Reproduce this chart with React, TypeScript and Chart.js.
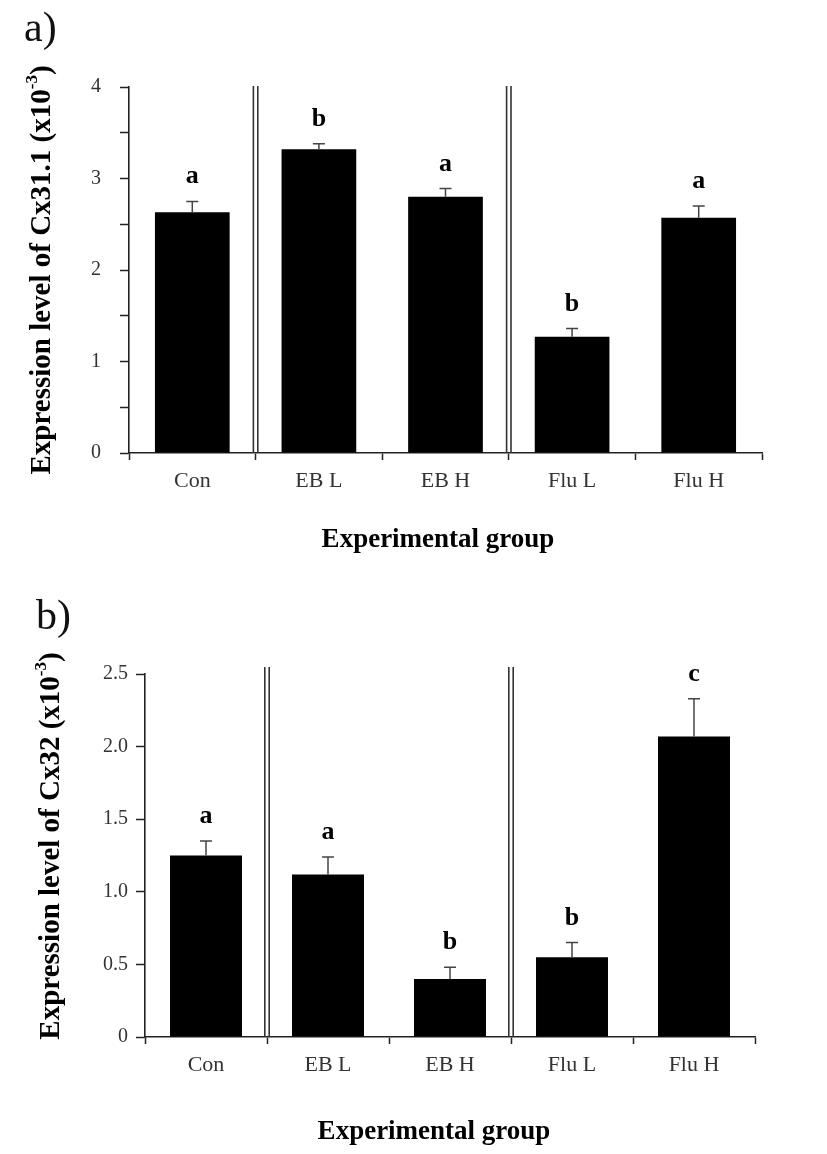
import React, { useEffect, useRef } from 'react';
import { Chart, registerables } from 'chart.js';

Chart.register(...registerables);

const categories = ['Con', 'EB L', 'EB H', 'Flu L', 'Flu H'];

const cx311Means = [2.63, 3.32, 2.8, 1.27, 2.57];
const cx311Errors = [0.12, 0.06, 0.09, 0.09, 0.13];
const cx311Letters = ['a', 'b', 'a', 'b', 'a'];
const cx311TickLabels = ['0', '1', '2', '3', '4'];

const cx32Means = [1.25, 1.12, 0.4, 0.55, 2.07];
const cx32Errors = [0.1, 0.12, 0.08, 0.1, 0.26];
const cx32Letters = ['a', 'a', 'b', 'b', 'c'];
const cx32TickLabels = ['0', '0.5', '1.0', '1.5', '2.0', '2.5'];

const separatorsAfter = [0, 2];

const SERIF = "'Liberation Serif', 'Times New Roman', serif";
const W = 827;

type PanelCfg = {
  top: number;
  height: number;
  means: number[];
  errors: number[];
  letters: string[];
  tickLabels: string[];
  yMax: number;
  yStep: number;
  labelStep: number;
  area: { left: number; top: number; right: number; bottom: number };
  yTickPad: number;
  yTitleMain: string;
  yTitleSup: string;
  yTitleX: number;
  yTitleY: number;
  xTitleX: number;
  xTitleY: number;
  panelLabel: string;
  panelX: number;
  panelY: number;
  sepTop: number;
  letterFont: number;
  yTitleFont: number;
  xTitleFont: number;
};

function Panel({ cfg }: { cfg: PanelCfg }) {
  const ref = useRef<HTMLCanvasElement>(null);
  useEffect(() => {
    const YW = 45;
    const XH = 50;
    const overlay = {
      id: 'overlay',
      afterDatasetsDraw(chart: any) {
        const ctx = chart.ctx as CanvasRenderingContext2D;
        const xs = chart.scales.x;
        const ys = chart.scales.y;
        ctx.save();
        // error bars + significance letters
        cfg.means.forEach((m, i) => {
          const cx = xs.getPixelForValue(i);
          const y0 = ys.getPixelForValue(m);
          const y1 = ys.getPixelForValue(m + cfg.errors[i]);
          ctx.strokeStyle = '#444';
          ctx.lineWidth = 1.5;
          ctx.beginPath();
          ctx.moveTo(cx, y0);
          ctx.lineTo(cx, y1);
          ctx.moveTo(cx - 6, y1);
          ctx.lineTo(cx + 6, y1);
          ctx.stroke();
          ctx.fillStyle = '#000';
          ctx.font = `bold ${cfg.letterFont}px ${SERIF}`;
          ctx.textAlign = 'center';
          ctx.textBaseline = 'alphabetic';
          ctx.fillText(cfg.letters[i], cx, y1 - 18);
        });
        // double separators
        ctx.strokeStyle = '#333';
        ctx.lineWidth = 1.6;
        separatorsAfter.forEach((i) => {
          const sx = (xs.getPixelForValue(i) + xs.getPixelForValue(i + 1)) / 2;
          const yb = ys.getPixelForValue(0);
          [-2.2, 2.2].forEach((d) => {
            ctx.beginPath();
            ctx.moveTo(sx + d, cfg.sepTop);
            ctx.lineTo(sx + d, yb);
            ctx.stroke();
          });
        });
        // y title with superscript
        ctx.fillStyle = '#000';
        ctx.translate(cfg.yTitleX, cfg.yTitleY);
        ctx.rotate(-Math.PI / 2);
        const mainFont = `bold ${cfg.yTitleFont}px ${SERIF}`;
        const supFont = `bold ${Math.round(cfg.yTitleFont * 0.6)}px ${SERIF}`;
        ctx.font = mainFont;
        const w1 = ctx.measureText(cfg.yTitleMain).width;
        const w3 = ctx.measureText(')').width;
        ctx.font = supFont;
        const w2 = ctx.measureText(cfg.yTitleSup).width;
        let x = -(w1 + w2 + w3) / 2;
        ctx.textAlign = 'left';
        ctx.textBaseline = 'middle';
        ctx.font = mainFont;
        ctx.fillText(cfg.yTitleMain, x, 0);
        x += w1;
        ctx.font = supFont;
        ctx.fillText(cfg.yTitleSup, x, -cfg.yTitleFont * 0.36);
        x += w2;
        ctx.font = mainFont;
        ctx.fillText(')', x, 0);
        ctx.restore();
        ctx.save();
        // x title
        ctx.fillStyle = '#000';
        ctx.font = `bold ${cfg.xTitleFont}px ${SERIF}`;
        ctx.textAlign = 'center';
        ctx.textBaseline = 'alphabetic';
        ctx.fillText('Experimental group', cfg.xTitleX, cfg.xTitleY);
        // panel label
        ctx.font = `42px ${SERIF}`;
        ctx.textAlign = 'left';
        ctx.fillStyle = '#111';
        ctx.fillText(cfg.panelLabel, cfg.panelX, cfg.panelY);
        ctx.restore();
      },
    };
    const a = cfg.area;
    const chart = new Chart(ref.current as HTMLCanvasElement, {
      type: 'bar',
      data: {
        labels: categories,
        datasets: [
          {
            data: cfg.means,
            backgroundColor: '#000',
            borderWidth: 0,
            barPercentage: 0.59,
            categoryPercentage: 1,
          },
        ],
      },
      options: {
        responsive: false,
        animation: false,
        devicePixelRatio: 1,
        layout: {
          padding: {
            left: a.left - YW,
            top: a.top,
            right: W - a.right,
            bottom: cfg.height - a.bottom - XH,
          },
        },
        plugins: {
          legend: { display: false },
          tooltip: { enabled: false },
        },
        scales: {
          x: {
            afterFit: (s: any) => {
              s.height = XH;
            },
            grid: {
              offset: true,
              drawOnChartArea: false,
              drawTicks: true,
              tickLength: 7,
              tickWidth: 1.5,
              tickColor: '#222',
            },
            border: { display: true, color: '#222', width: 1.6 },
            ticks: {
              color: '#333',
              font: { family: SERIF, size: 22 },
              padding: 8,
              maxRotation: 0,
            },
          },
          y: {
            min: 0,
            max: cfg.yMax,
            afterFit: (s: any) => {
              s.width = YW;
            },
            grid: {
              drawOnChartArea: false,
              drawTicks: true,
              tickLength: 9,
              tickWidth: 1.5,
              tickColor: '#222',
            },
            border: { display: true, color: '#222', width: 1.6 },
            ticks: {
              stepSize: cfg.yStep,
              color: '#333',
              font: { family: SERIF, size: 20 },
              padding: cfg.yTickPad,
              callback: (v: any) => {
                const k = Math.round(Number(v) / cfg.labelStep);
                if (Math.abs(Number(v) - k * cfg.labelStep) > 1e-6) return '';
                return cfg.tickLabels[k] ?? '';
              },
            },
          },
        },
      },
      plugins: [overlay],
    } as any);
    return () => chart.destroy();
  }, [cfg]);
  return (
    <canvas
      ref={ref}
      width={W}
      height={cfg.height}
      style={{ position: 'absolute', left: 0, top: cfg.top, width: W, height: cfg.height }}
    />
  );
}

const panelA: PanelCfg = {
  top: 0,
  height: 575,
  means: cx311Means,
  errors: cx311Errors,
  letters: cx311Letters,
  tickLabels: cx311TickLabels,
  yMax: 4,
  yStep: 0.5,
  labelStep: 1,
  area: { left: 129, top: 87, right: 762, bottom: 453 },
  yTickPad: 19,
  yTitleMain: 'Expression level of Cx31.1 (x10',
  yTitleSup: '-3',
  yTitleX: 43,
  yTitleY: 270,
  xTitleX: 438,
  xTitleY: 547,
  panelLabel: 'a)',
  panelX: 24,
  panelY: 41,
  sepTop: 86,
  letterFont: 26,
  yTitleFont: 29,
  xTitleFont: 27,
};

const panelB: PanelCfg = {
  top: 575,
  height: 579,
  means: cx32Means,
  errors: cx32Errors,
  letters: cx32Letters,
  tickLabels: cx32TickLabels,
  yMax: 2.5,
  yStep: 0.5,
  labelStep: 0.5,
  area: { left: 145, top: 99, right: 755, bottom: 462 },
  yTickPad: 8,
  yTitleMain: 'Expression level of Cx32 (x10',
  yTitleSup: '-3',
  yTitleX: 52,
  yTitleY: 271,
  xTitleX: 434,
  xTitleY: 564,
  panelLabel: 'b)',
  panelX: 36,
  panelY: 54,
  sepTop: 92,
  letterFont: 26,
  yTitleFont: 29,
  xTitleFont: 27,
};

export default function App() {
  return (
    <div style={{ position: 'relative', width: W, height: 1154, margin: -8, background: '#fff' }}>
      <Panel cfg={panelA} />
      <Panel cfg={panelB} />
    </div>
  );
}
